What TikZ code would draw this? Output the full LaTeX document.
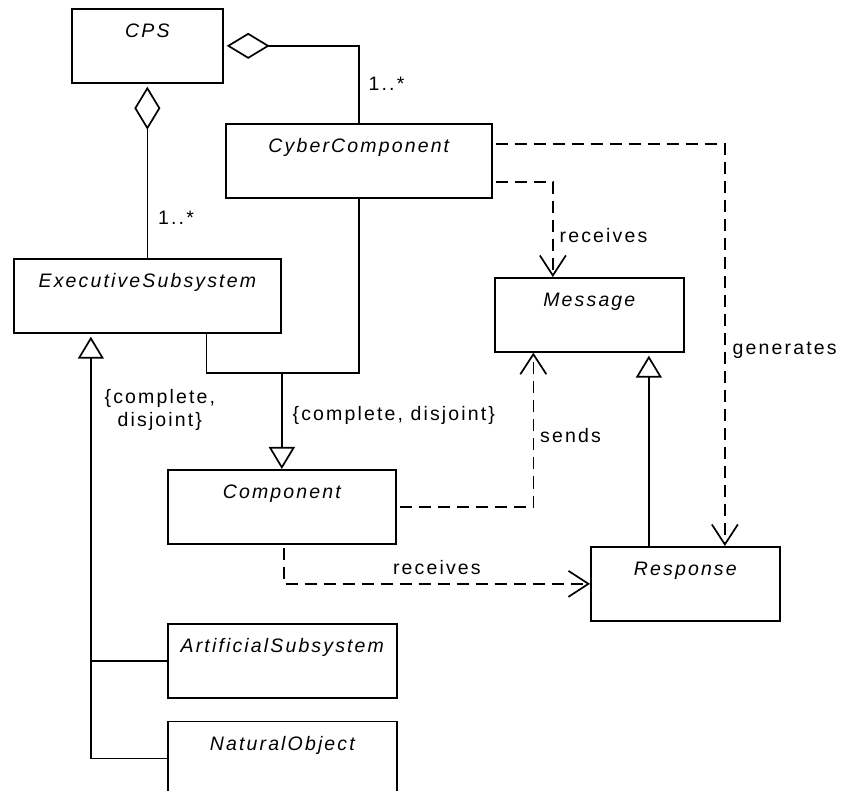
\documentclass[tikz,border=0pt]{standalone}
\usepackage{fontspec}
\setmainfont{Liberation Sans}[LetterSpace=11]
\usetikzlibrary{arrows.meta,positioning}
\newcommand{\umlfont}{\fontsize{19.5}{23}\selectfont}

\begin{document}
\begin{tikzpicture}[x=1pt, y=-1pt, font=\umlfont]
	\tikzstyle{every path}=[line width=1.7pt]
	\tikzstyle{cls}=[draw,rectangle,anchor=north west,inner sep=0pt,text height=29pt,text depth=45pt,font=\umlfont\itshape]
	\tikzstyle{lbl}=[inner sep=0pt,font=\umlfont]
	\tikzstyle{agg}=[{Diamond[open,length=43pt,width=26pt]}-,shorten <=3pt]
	\tikzstyle{gen}=[-{Triangle[open,length=22pt,width=26pt]}]
	\tikzstyle{dep}=[dash pattern=on 12pt off 7pt,-{Straight Barb[length=20pt,width=26pt]},shorten <=3pt]

	\useasboundingbox (0,0) rectangle (841,791);

	\node [cls,minimum width=151pt] (cps) at (71,8) {CPS};
	\node [cls,minimum width=266pt] (cyber) at (225,123) {CyberComponent};
	\node [cls,minimum width=267pt] (exec) at (13,258) {ExecutiveSubsystem};
	\node [cls,minimum width=189pt] (msg) at (494,277) {Message};
	\node [cls,minimum width=228pt] (comp) at (167,469) {Component};
	\node [cls,minimum width=189pt] (resp) at (590,546) {Response};
	\node [cls,minimum width=229pt] (art) at (167,623) {ArtificialSubsystem};
	\node [cls,minimum width=229pt] (nat) [below=22pt of art] {NaturalObject};

	% aggregation
	\draw [agg] (cps.east) -| (cyber.north);
	\draw [agg] (cps.south) -- (exec.north);
	\node [lbl,anchor=west] (m1) at ([xshift=9pt,yshift=39pt]cyber.north) {1..*};
	\node [lbl,anchor=west] (m2) at ([xshift=10pt,yshift=40pt]exec.north) {1..*};

	% generalization
	\coordinate (gj) at ([yshift=96pt]comp.north);
	\draw ([xshift=59pt]exec.south) |- (gj) -| (cyber.south);
	\draw [gen] (gj) -- (comp.north);
	\node [lbl,anchor=west] (gc1) at ([xshift=10pt,yshift=-42pt]gj) {\{complete, disjoint\}};

	\coordinate (ej) at ([xshift=-56.5pt]exec.south);
	\draw [gen,shorten >=3pt] (nat.west) -| (ej);
	\draw (art.west) -- (art.west -| ej);
	\node [lbl,align=center] (gc2) at ([xshift=69pt,yshift=-76pt]ej) {\{complete,\\disjoint\}};

	\coordinate (rg) at ([xshift=-36.5pt]resp.north);
	\draw [gen,shorten >=3pt] (rg) -- (rg |- msg.south);

	% dependencies
	\draw [dep] ([yshift=-21pt]cyber.east) -| ([xshift=-36.5pt]msg.north)
		node [lbl,pos=0.78,anchor=west,xshift=6pt] (l1) {receives};
	\draw [dep] ([yshift=17pt]cyber.east) -| ([xshift=39.5pt]resp.north)
		node [lbl,pos=0.757,anchor=west,xshift=7pt] (l2) {generates};
	\draw [dep] (comp.east) -| ([xshift=-56pt]msg.south)
		node [lbl,pos=0.73,anchor=west,xshift=6pt] (l3) {sends};
	\draw [dep] ([xshift=2pt]comp.south) |- (resp.west)
		node [lbl,pos=0.75,anchor=base,yshift=9pt] (l4) {receives};

\end{tikzpicture}
\end{document}
